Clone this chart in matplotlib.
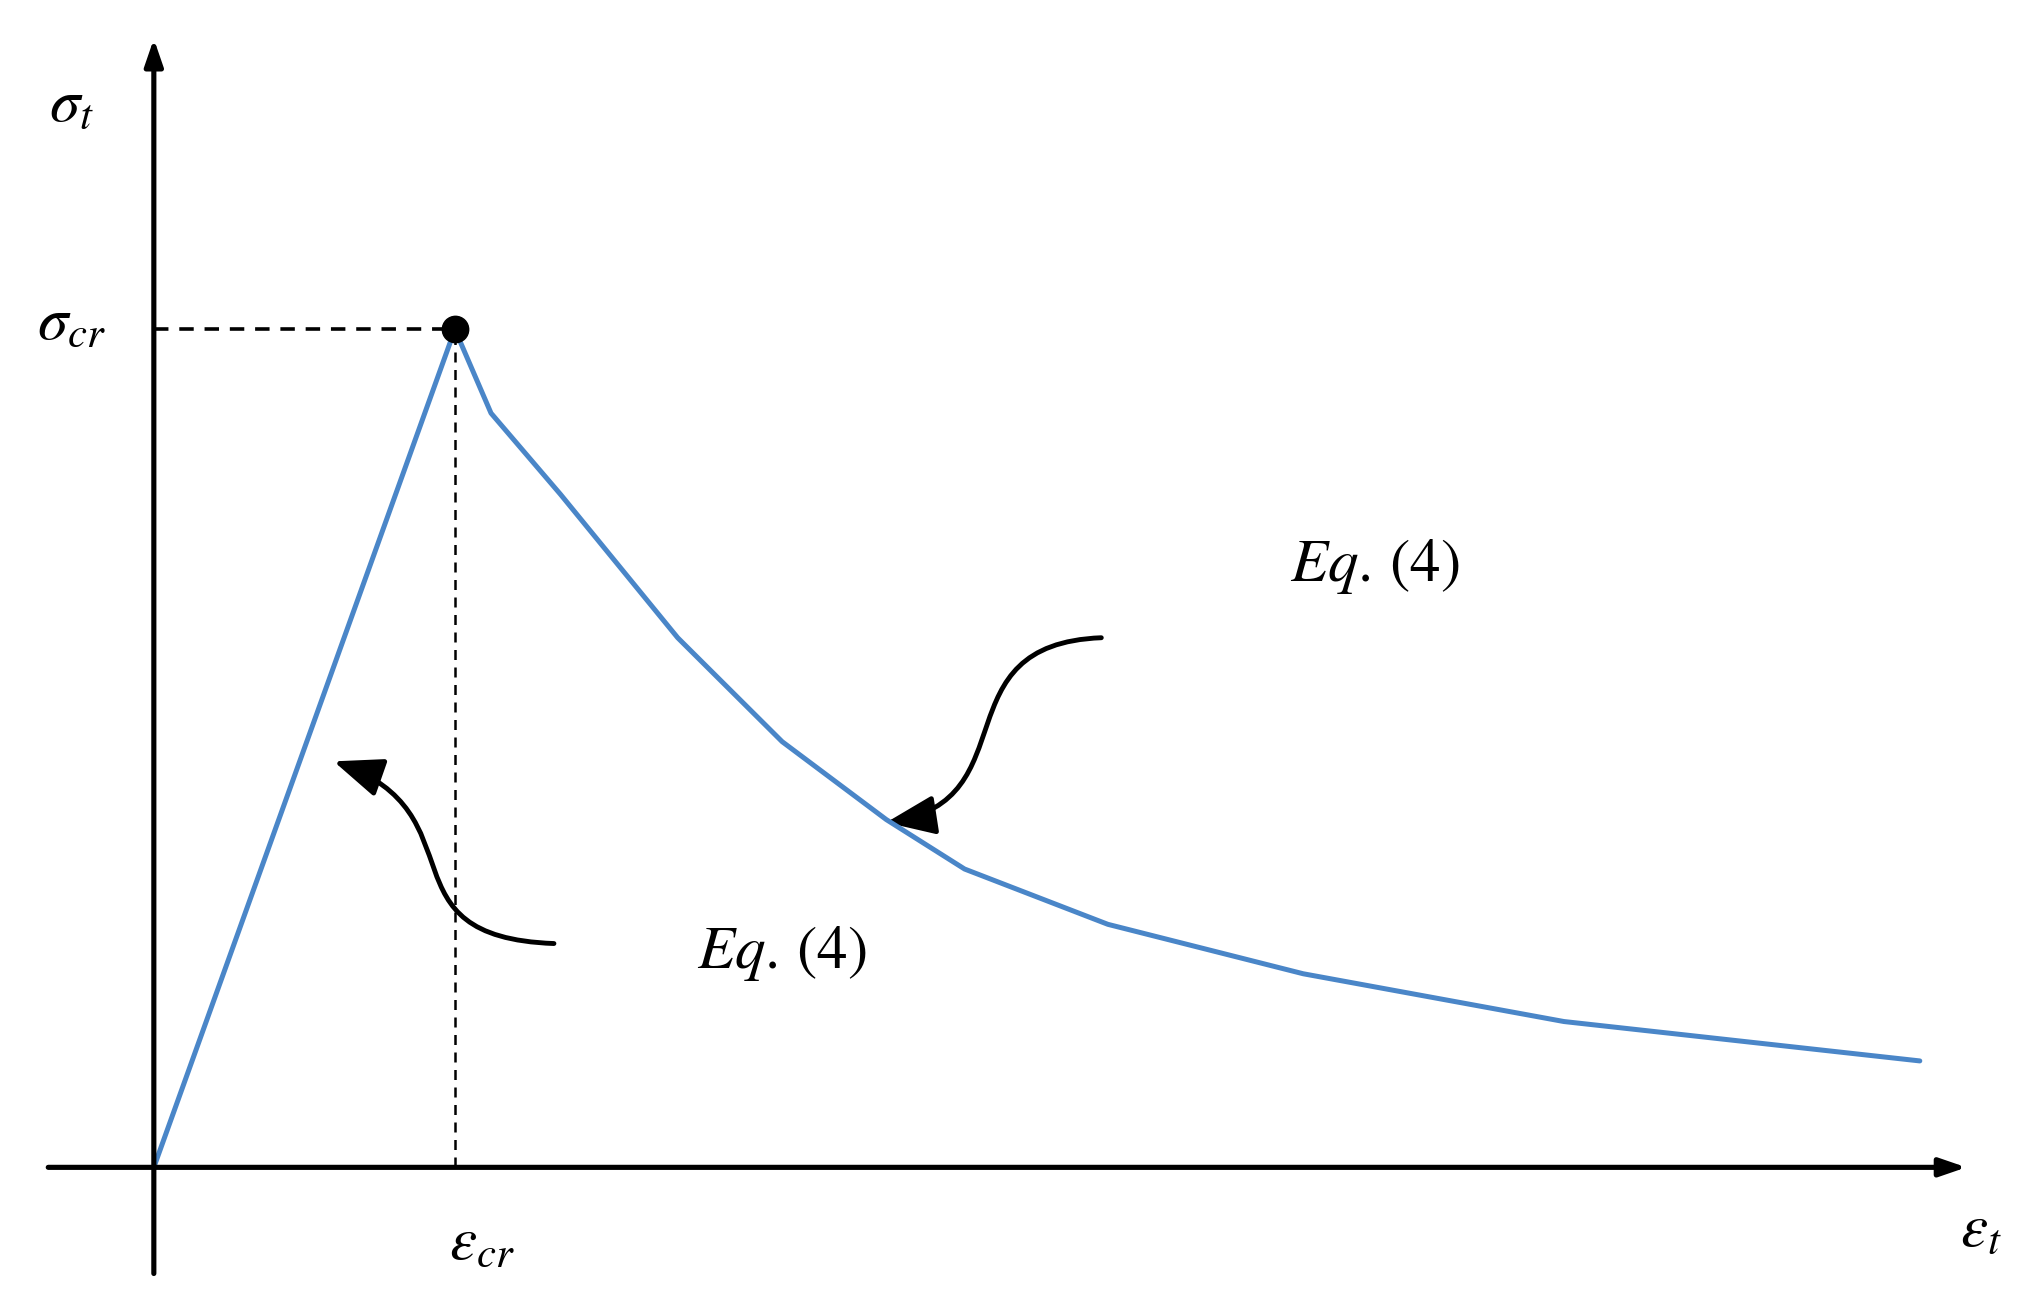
import matplotlib
matplotlib.use('Agg')
import numpy as np
from matplotlib import pyplot as plt
from matplotlib.patches import FancyArrowPatch
from matplotlib.path import Path

plt.rcParams['mathtext.fontset'] = 'stix'

# normalised strain / stress (peak = 1, 1)
rise_strain = [0.0, 1.0]
rise_stress = [0.0, 1.0]
soft_strain = [1.0, 1.12, 1.351, 1.740, 2.087, 2.433, 2.693, 3.169, 3.818, 4.684, 5.866]
soft_stress = [1.0, 0.90, 0.803, 0.632, 0.508, 0.415, 0.356, 0.290, 0.231, 0.174, 0.127]
peak = (1.0, 1.0)

blue = '#4a86c8'

fig = plt.figure(figsize=(20.33, 13.14), dpi=100)
ax = fig.add_axes([0, 0, 1, 1])
ax.set_xlim(-0.511, 6.242)
ax.set_ylim(-0.175, 1.393)
ax.axis('off')

# axes with arrow heads
ax.annotate('', xy=(6.03, 0), xytext=(-0.36, 0),
            arrowprops=dict(arrowstyle='-|>,head_length=1.6,head_width=0.55', lw=3.7, color='black'))
ax.annotate('', xy=(0, 1.35), xytext=(0, -0.13),
            arrowprops=dict(arrowstyle='-|>,head_length=1.6,head_width=0.55', lw=3.7, color='black'))

# dashed guides to the peak
ax.plot([0, peak[0]], [peak[1], peak[1]], ls=(0, (4, 3)), lw=2.6, color='black')
ax.plot([peak[0], peak[0]], [0, peak[1]], ls=(0, (4, 3)), lw=1.8, color='black')

# curve
ax.plot(rise_strain, rise_stress, color=blue, lw=3.6, solid_capstyle='round')
ax.plot(soft_strain, soft_stress, color=blue, lw=3.6, solid_capstyle='round')
ax.plot(*peak, 'o', color='black', ms=19, zorder=5)


def px(x, y):
    # helper: convert reference picture pixels into data units
    return ((x - 118) / 231.0, (897 - y) / 644.0)


def curved_arrow(pts):
    verts = [px(*p) for p in pts]
    path = Path(verts, [Path.MOVETO, Path.CURVE4, Path.CURVE4, Path.CURVE4])
    ax.add_patch(FancyArrowPatch(path=path, arrowstyle='-|>,head_length=1.5,head_width=0.6',
                                 lw=3.5, color='black', mutation_scale=20))


curved_arrow([(845, 490), (720, 495), (790, 615), (680, 632)])
curved_arrow([(425, 725), (290, 720), (370, 625), (256, 585)])

fs = 44
ax.text(*px(55, 80), r'$\sigma_t$', fontsize=fs, ha='center', va='center')
ax.text(*px(55, 248), r'$\sigma_{cr}$', fontsize=fs, ha='center', va='center')
ax.text(*px(370, 955), r'$\varepsilon_{cr}$', fontsize=fs, ha='center', va='center')
ax.text(*px(1520, 945), r'$\varepsilon_t$', fontsize=fs, ha='center', va='center')
ax.text(*px(1055, 435), r'$Eq.\,(4)$', fontsize=fs, ha='center', va='center')
ax.text(*px(600, 733), r'$Eq.\,(4)$', fontsize=fs, ha='center', va='center')

fig.savefig('out.png', dpi=100, facecolor='white')
